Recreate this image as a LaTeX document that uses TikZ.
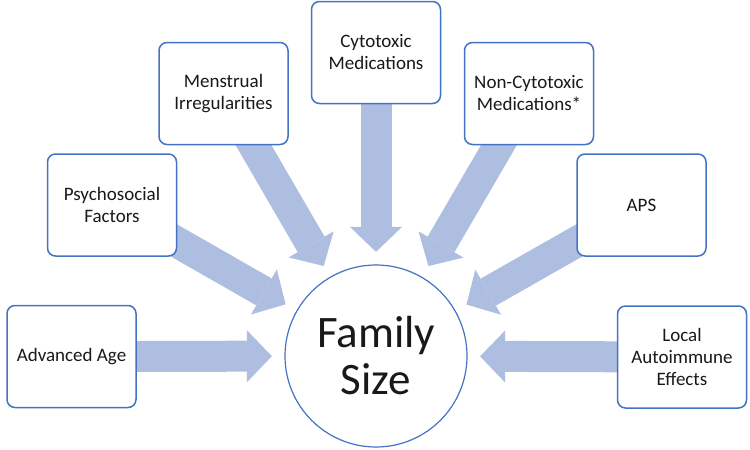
\documentclass[tikz,border=0pt]{standalone}
\usepackage{fontspec}
\setmainfont{Carlito}
\usetikzlibrary{arrows.meta}
\definecolor{boxblue}{RGB}{68,114,196}
\definecolor{arrowblue}{RGB}{174,190,224}
\definecolor{txtgray}{RGB}{25,25,25}
\pgfdeclarelayer{bg}
\pgfsetlayers{bg,main}
\begin{document}
\begin{tikzpicture}[x=1pt,y=-1pt,
  factor/.style={draw=boxblue, line width=1.5pt, rounded corners=8pt, fill=white,
    minimum width=129pt, minimum height=102pt, align=center, text=txtgray,
    font=\fontsize{19}{22}\selectfont, inner sep=2pt},
  hub/.style={circle, draw=boxblue, line width=1.2pt, fill=white, minimum size=182pt,
    align=center, text=txtgray, font=\fontsize{45}{47}\selectfont, inner sep=0pt},
  blockarrow/.style={draw=arrowblue, line width=31pt, shorten >=12.5pt,
    -{Triangle[width=52pt,length=25pt,line width=0pt]}}
]
\useasboundingbox (0,0) rectangle (750,450);

\node[hub] (fs) at (376,356) {Family\\Size};

\node[factor] (aa) at (71.5,356.5) {Advanced Age};
\node[factor] (ps) at (112,205) {Psychosocial\\Factors};
\node[factor] (mi) at (223.5,93.5) {Menstrual\\Irregularities};
\node[factor] (cm) at (376,52.5) {Cytotoxic\\Medications};
\node[factor] (nc) at (529,93.5) {Non-Cytotoxic\\Medications*};
\node[factor] (aps) at (641.5,205) {APS};
\node[factor] (la) at (682,357) {Local\\Autoimmune\\Effects};

\begin{pgfonlayer}{bg}
\draw[blockarrow] (aa.center) -- (fs);
\draw[blockarrow] (ps.center) -- (fs);
\draw[blockarrow] (mi.center) -- (fs);
\draw[blockarrow] (cm.center) -- (fs);
\draw[blockarrow] (nc.center) -- (fs);
\draw[blockarrow] (aps.center) -- (fs);
\draw[blockarrow] (la.center) -- (fs);
\end{pgfonlayer}
\end{tikzpicture}
\end{document}
